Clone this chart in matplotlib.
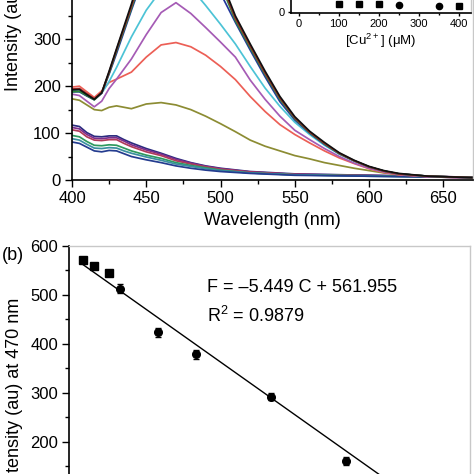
import matplotlib
matplotlib.use('Agg')
import matplotlib.pyplot as plt
from matplotlib.ticker import MultipleLocator

plt.rcParams['font.family'] = ['Liberation Sans', 'DejaVu Sans']
plt.rcParams['mathtext.default'] = 'regular'

# ---- (a) emission spectra ----
wl_hi = [400, 405, 410, 415, 420, 425, 430, 440, 450, 460, 470, 480, 490, 500,
         510, 520, 530, 540, 550, 560, 570, 580, 590, 600, 610, 620, 640, 660, 670]
spec_0 = [192, 193, 182, 172, 186, 232, 280, 375, 480, 545, 570, 560, 510, 430,
          350, 290, 232, 178, 135, 104, 80, 58, 42, 29, 20, 14, 8, 6, 5]
spec_3 = [194, 195, 184, 173, 186, 230, 278, 370, 470, 535, 558, 548, 500, 425,
          345, 286, 228, 175, 133, 102, 78, 57, 41, 28, 19, 13, 8, 6, 5]
spec_7 = [188, 189, 180, 171, 186, 228, 275, 366, 460, 522, 545, 535, 490, 418,
          340, 282, 225, 172, 131, 101, 77, 56, 41, 28, 19, 13, 8, 6, 5]
spec_10 = [188, 188, 179, 171, 185, 226, 270, 362, 450, 500, 512, 500, 458, 398,
           336, 277, 220, 167, 128, 100, 76, 56, 41, 28, 19, 13, 8, 6, 5]
spec_20 = [190, 189, 180, 172, 185, 210, 240, 305, 362, 405, 423, 410, 372, 332,
           290, 242, 196, 157, 123, 97, 74, 55, 40, 28, 19, 13, 8, 6, 5]
spec_30 = [183, 180, 168, 156, 168, 195, 215, 258, 310, 357, 378, 355, 325, 294,
           262, 213, 172, 136, 106, 86, 67, 50, 36, 25, 17, 12, 7, 5, 5]
spec_50 = [198, 200, 188, 176, 190, 208, 215, 230, 262, 288, 293, 284, 266, 242,
           214, 178, 146, 118, 97, 79, 62, 47, 35, 24, 16, 11, 7, 5, 5]
spec_70 = [173, 170, 160, 150, 148, 155, 158, 152, 162, 165, 160, 150, 136, 120,
           103, 85, 72, 62, 52, 45, 37, 31, 25, 20, 15, 12, 8, 6, 5]

wl_lo = [400, 405, 410, 415, 420, 425, 430, 435, 440, 450, 460, 470, 480, 490,
         500, 520, 550, 600, 650, 670]
spec_100 = [117, 114, 101, 93, 92, 94, 94, 86, 79, 67, 57, 46, 37, 30, 25, 18, 13, 10, 7, 6]
spec_150 = [112, 109, 97, 89, 88, 90, 90, 83, 75, 64, 55, 44, 36, 29, 24, 17, 12, 10, 7, 6]
spec_200 = [107, 104, 92, 85, 84, 86, 86, 78, 71, 60, 52, 41, 34, 28, 23, 17, 12, 9, 7, 6]
spec_250 = [95, 92, 82, 74, 73, 75, 74, 68, 62, 53, 46, 37, 31, 26, 21, 15, 11, 9, 6, 5]
spec_350 = [88, 85, 76, 68, 67, 69, 68, 62, 57, 49, 42, 34, 29, 24, 20, 15, 11, 8, 6, 5]
spec_400 = [81, 78, 70, 62, 60, 63, 62, 56, 50, 43, 37, 30, 25, 21, 18, 14, 10, 8, 6, 5]

hi_specs = [spec_0, spec_3, spec_7, spec_10, spec_20, spec_30, spec_50, spec_70]
hi_colors = ['#111111', '#a52a2a', '#2e8b3a', '#23379a', '#4cc3d6', '#a55bb5',
             '#ec5f56', '#8c8c33']
lo_specs = [spec_100, spec_150, spec_200, spec_250, spec_350, spec_400]
lo_colors = ['#2b2b7f', '#7b2d8c', '#b03a5a', '#2e9a5e', '#3a8fa0', '#243c8f']

# ---- (b) calibration ----
conc = [0, 3, 7, 10, 20, 30, 50, 70]
f470 = [570, 558, 545, 512, 423, 378, 292, 160]
f470_err = [6, 6, 5, 9, 9, 10, 7, 8]
slope = -5.449
intercept = 561.955
fit_range = [0, 90]

# inset: whole titration
inset_conc = conc + [100, 150, 200, 250, 350, 400]
inset_f = f470 + [46, 44, 41, 37, 34, 30]
inset_shapes = ['s', 's', 's', 'o', 'o', 'o', 'o', 's', 's', 's', 's', 'o', 'o', 's']


def style(ax):
    for s in ['left', 'bottom']:
        ax.spines[s].set_linewidth(1.2)
    for s in ['top', 'right']:
        ax.spines[s].set_color('#c8c8c8')
        ax.spines[s].set_linewidth(1.0)
    ax.tick_params(which='major', direction='out', length=5, width=1,
                   labelsize=12, pad=3)
    ax.tick_params(which='minor', direction='out', length=3, width=1)


fig = plt.figure(figsize=(4.74, 4.74), dpi=100)

ax1 = fig.add_axes([0.1519, 0.6203, 0.846, 0.5937])
for sp, c in zip(lo_specs, lo_colors):
    ax1.plot(wl_lo, sp, color=c, lw=1.25)
for sp, c in zip(hi_specs[::-1], hi_colors[::-1]):
    ax1.plot(wl_hi, sp, color=c, lw=1.25)
ax1.set_xlim(400, 670)
ax1.set_ylim(0, 600)
ax1.xaxis.set_major_locator(MultipleLocator(50))
ax1.xaxis.set_minor_locator(MultipleLocator(25))
ax1.yaxis.set_major_locator(MultipleLocator(100))
ax1.yaxis.set_minor_locator(MultipleLocator(50))
style(ax1)
ax1.set_xlabel('Wavelength (nm)', fontsize=13)
ax1.set_ylabel('Intensity (au)', fontsize=13)
ax1.yaxis.set_label_coords(-0.125, 0.5)

ax3 = fig.add_axes([0.6133, 0.9732, 0.3804, 0.23])
for x, y, m in zip(inset_conc, inset_f, inset_shapes):
    ax3.plot(x, y, marker=m, color='black', ms=4.5, ls='none')
ax3.set_xlim(-20, 430)
ax3.set_ylim(-5, 600)
ax3.xaxis.set_major_locator(MultipleLocator(100))
ax3.xaxis.set_minor_locator(MultipleLocator(50))
ax3.yaxis.set_major_locator(MultipleLocator(200))
style(ax3)
ax3.tick_params(which='major', length=2.5, labelsize=8, pad=2)
ax3.tick_params(which='minor', length=1.5)
ax3.set_xlabel('[Cu$^{2+}$] (\u03bcM)', fontsize=9.5, labelpad=2)

ax2 = fig.add_axes([0.1456, -0.1386, 0.846, 0.6203])
ax2.plot(fit_range, [intercept + slope * c for c in fit_range], color='black', lw=1.0)
for i in range(len(conc)):
    ax2.errorbar(conc[i], f470[i], yerr=f470_err[i], fmt='s' if i < 3 else 'o',
                 color='black', ms=5.5, capsize=2, elinewidth=1, capthick=1)
ax2.set_xlim(-3.6, 102.8)
ax2.set_ylim(0, 600)
ax2.yaxis.set_major_locator(MultipleLocator(100))
ax2.yaxis.set_minor_locator(MultipleLocator(50))
ax2.xaxis.set_major_locator(MultipleLocator(20))
style(ax2)
ax2.set_ylabel('Intensity (au) at 470 nm', fontsize=13)
ax2.yaxis.set_label_coords(-0.115, 0.5)
ax2.text(33, 515, 'F = \u20135.449 C + 561.955', fontsize=13, va='center')
ax2.text(33, 457, 'R$^2$ = 0.9879', fontsize=13, va='center')

fig.text(0.027, 0.46, '(b)', fontsize=13, ha='center', va='center')

fig.savefig('out.png', dpi=100)
